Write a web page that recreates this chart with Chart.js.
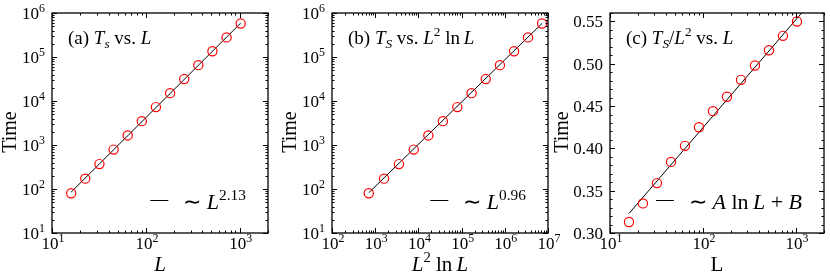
<!DOCTYPE html>
<html>
<head>
<meta charset="utf-8">
<script src="https://cdn.jsdelivr.net/npm/chart.js@4.4.0/dist/chart.umd.min.js"></script>
<style>
body { margin: 0; background: #fff; width: 830px; height: 277px; position: relative; overflow: hidden; }
canvas { position: absolute; top: 0; }
</style>
</head>
<body>
<canvas id="chartA" width="280" height="277" style="left:0px"></canvas>
<canvas id="chartB" width="280" height="277" style="left:280px"></canvas>
<canvas id="chartC" width="277" height="277" style="left:553px"></canvas>
<script>
// data
const sizeL = [16, 22.6, 32, 45.3, 64, 90.5, 128, 181, 256, 362, 512, 724, 1024];
const timeTs = [80, 172, 368, 786, 1650, 3480, 7270, 15100, 31500, 65200, 135000, 279000, 577000];
const sizeL2lnL = [710, 1600, 3550, 7810, 17000, 36900, 79500, 170000, 363000, 772000, 1640000, 3450000, 7270000];
const timeOverL2 = [0.313, 0.335, 0.359, 0.384, 0.403, 0.425, 0.444, 0.461, 0.481, 0.498, 0.516, 0.533, 0.550];

// fitted lines (end points)
const fitAx = [16, 1024];
const fitAy = [85, 590000];
const fitBx = [710, 7270000];
const fitBy = [82, 580000];
const fitCx = [16, 1150];
const fitCy = [0.323, 0.56];

const SERIF = "'Liberation Serif', 'Times New Roman', serif";

// parts: [text, italic, shift]  shift: 1 = superscript, -1 = subscript
function richWidth(ctx, parts, size) {
    let w = 0;
    parts.forEach(([t, it, sh]) => {
        const fs = sh ? size * 0.7 : size;
        ctx.font = (it ? 'italic ' : '') + fs + 'px ' + SERIF;
        w += ctx.measureText(t).width;
    });
    return w;
}

function drawRich(ctx, parts, x, y, size, align) {
    const w = richWidth(ctx, parts, size);
    if (align === 'center') x -= w / 2;
    if (align === 'right') x -= w;
    ctx.textBaseline = 'alphabetic';
    ctx.textAlign = 'left';
    ctx.fillStyle = '#000';
    parts.forEach(([t, it, sh]) => {
        const fs = sh ? size * 0.7 : size;
        ctx.font = (it ? 'italic ' : '') + fs + 'px ' + SERIF;
        let dy = 0;
        if (sh === 1) dy = -size * 0.42;
        if (sh === -1) dy = size * 0.22;
        ctx.fillText(t, x, y + dy);
        x += ctx.measureText(t).width;
    });
}

function tickList(scale) {
    const list = [];
    if (scale.type === 'logarithmic') {
        const e0 = Math.floor(Math.log10(scale.min));
        const e1 = Math.ceil(Math.log10(scale.max));
        for (let e = e0; e <= e1; e++) {
            for (let k = 1; k < 10; k++) {
                const v = k * Math.pow(10, e);
                if (v >= scale.min * 0.999 && v <= scale.max * 1.001) list.push({ v: v, major: k === 1, exp: e });
            }
        }
    } else {
        for (let i = Math.round(scale.min * 100); i <= Math.round(scale.max * 100); i++) {
            list.push({ v: i / 100, major: i % 5 === 0 });
        }
    }
    return list;
}

const decor = {
    id: 'decor',
    afterDraw(chart, args, opts) {
        const ctx = chart.ctx;
        const a = chart.chartArea;
        const xs = chart.scales.x, ys = chart.scales.y;
        ctx.save();
        ctx.strokeStyle = '#000';
        ctx.lineWidth = 1.3;
        ctx.strokeRect(a.left, a.top, a.right - a.left, a.bottom - a.top);

        ctx.lineWidth = 1;
        ctx.beginPath();
        tickList(xs).forEach(t => {
            const px = Math.round(xs.getPixelForValue(t.v)) + 0.5;
            const len = t.major ? 5 : 2.5;
            ctx.moveTo(px, a.bottom); ctx.lineTo(px, a.bottom - len);
            ctx.moveTo(px, a.top); ctx.lineTo(px, a.top + len);
        });
        tickList(ys).forEach(t => {
            const py = Math.round(ys.getPixelForValue(t.v)) + 0.5;
            const len = t.major ? 5 : 2.5;
            ctx.moveTo(a.left, py); ctx.lineTo(a.left + len, py);
            ctx.moveTo(a.right, py); ctx.lineTo(a.right - len, py);
        });
        ctx.stroke();

        // tick labels
        tickList(xs).filter(t => t.major).forEach(t => {
            const px = xs.getPixelForValue(t.v);
            drawRich(ctx, [['10'], [String(t.exp), false, 1]], px + 1, a.bottom + 16, 17, 'center');
        });
        tickList(ys).filter(t => t.major).forEach(t => {
            const py = ys.getPixelForValue(t.v);
            if (ys.type === 'logarithmic') {
                drawRich(ctx, [['10'], [String(t.exp), false, 1]], a.left - 7, py + 6, 17, 'right');
            } else {
                drawRich(ctx, [[t.v.toFixed(2)]], a.left - 7, py + 6, 17, 'right');
            }
        });

        // axis titles
        drawRich(ctx, opts.xTitle, (a.left + a.right) / 2, 271, 21, 'center');
        ctx.save();
        ctx.translate(a.left - opts.yTitleGap, 132);
        ctx.rotate(-Math.PI / 2);
        drawRich(ctx, [['Time']], 0, 0, 20, 'center');
        ctx.restore();

        // panel label
        drawRich(ctx, opts.note, a.left + 16, a.top + 31, 19, 'left');

        // legend entry
        const w = richWidth(ctx, opts.legend, 22);
        const tx = a.right - 22 - w;
        ctx.beginPath();
        ctx.lineWidth = 1;
        ctx.moveTo(tx - 33, a.bottom - 32.5);
        ctx.lineTo(tx - 15, a.bottom - 32.5);
        ctx.stroke();
        drawRich(ctx, opts.legend, tx, a.bottom - 24, 22, 'left');
        ctx.restore();
    }
};

function makePanel(id, xv, yv, fx, fy, xType, xMin, xMax, yType, yMin, yMax, yWidth, rightPad, extra) {
    const pts = xv.map((x, i) => ({ x: x, y: yv[i] }));
    const fit = fx.map((x, i) => ({ x: x, y: fy[i] }));
    return new Chart(document.getElementById(id), {
        type: 'scatter',
        data: {
            datasets: [{
                data: fit,
                showLine: true,
                borderColor: '#000',
                borderWidth: 1,
                pointRadius: 0,
                order: 2
            }, {
                data: pts,
                showLine: false,
                pointStyle: 'circle',
                pointRadius: 4.6,
                pointBorderWidth: 1.2,
                pointBorderColor: '#ff0000',
                pointBackgroundColor: 'rgba(0,0,0,0)',
                order: 1
            }]
        },
        options: {
            responsive: false,
            animation: false,
            devicePixelRatio: 1,
            layout: { padding: { top: 13, right: rightPad, left: 0, bottom: 0 } },
            plugins: {
                legend: { display: false },
                tooltip: { enabled: false },
                decor: extra
            },
            scales: {
                x: {
                    type: xType, min: xMin, max: xMax,
                    grid: { display: false, drawTicks: false },
                    border: { display: false },
                    ticks: { display: false },
                    afterFit: s => { s.height = 44; }
                },
                y: {
                    type: yType, min: yMin, max: yMax,
                    grid: { display: false, drawTicks: false },
                    border: { display: false },
                    ticks: { display: false },
                    afterFit: s => { s.width = yWidth; }
                }
            }
        },
        plugins: [decor]
    });
}

makePanel('chartA', sizeL, timeTs, fitAx, fitAy, 'logarithmic', 10, 2000, 'logarithmic', 10, 1e6, 52, 12, {
    note: [['(a) '], ['T', true], ['s', true, -1], [' vs. '], ['L', true]],
    legend: [['\u223C '], ['L', true], ['2.13', false, 1]],
    xTitle: [['L', true]],
    yTitleGap: 36
});

makePanel('chartB', sizeL2lnL, timeTs, fitBx, fitBy, 'logarithmic', 100, 1e7, 'logarithmic', 10, 1e6, 52, 12, {
    note: [['(b) '], ['T', true], ['S', true, -1], [' vs. '], ['L', true], ['2', false, 1], [' ln\u2009'], ['L', true]],
    legend: [['\u223C '], ['L', true], ['0.96', false, 1]],
    xTitle: [['L', true], ['2', false, 1], [' ln\u2009'], ['L', true]],
    yTitleGap: 36
});

makePanel('chartC', sizeL, timeOverL2, fitCx, fitCy, 'logarithmic', 10, 2000, 'linear', 0.30, 0.56, 57, 6, {
    note: [['(c) '], ['T', true], ['S', true, -1], ['/'], ['L', true], ['2', false, 1], [' vs. '], ['L', true]],
    legend: [['\u223C '], ['A', true], [' ln\u2009'], ['L', true], [' + '], ['B', true]],
    xTitle: [['L']],
    yTitleGap: 42
});
</script>
</body>
</html>
